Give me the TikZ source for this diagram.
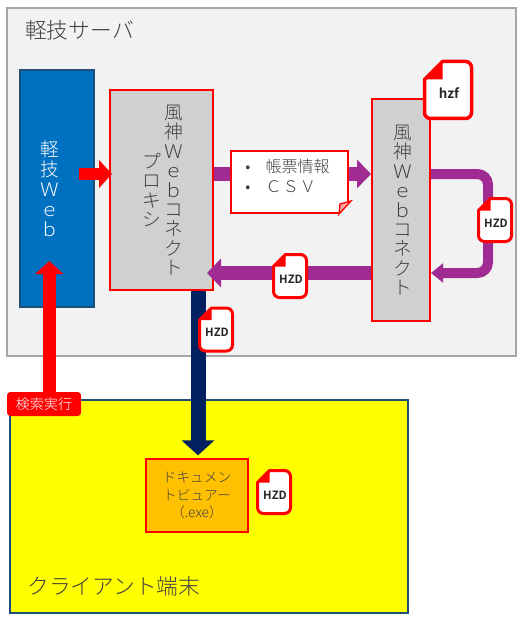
\documentclass[tikz,border=0pt]{standalone}
\usepackage{fontspec}
\setmainfont{Noto Sans CJK JP Light}[BoldFont=Noto Sans CJK JP Bold]
\usetikzlibrary{arrows.meta,positioning,calc}
\definecolor{servergray}{HTML}{F2F2F2}
\definecolor{frameline}{HTML}{A6A6A6}
\definecolor{webblue}{HTML}{0070C0}
\definecolor{deepteal}{HTML}{1F4E79}
\definecolor{boxgray}{HTML}{D0D0D0}
\definecolor{purpleflow}{HTML}{A02B93}
\definecolor{navyflow}{HTML}{002060}
\definecolor{viewerorange}{HTML}{FFC000}
\definecolor{clientyellow}{HTML}{FFFF00}
\definecolor{textgray}{HTML}{404040}
\definecolor{docred}{HTML}{FF0000}
% stacked column of characters
\newcommand{\tate}[1]{\parbox[c]{1.18em}{\centering\lineskiplimit=-20pt\relax #1}}
% name, centre, half width, half height, fold, border, text
\newcommand{\docicon}[7]{
  \begin{scope}[shift={(#2)}]
    \draw[docline,line width=#6*.75pt] (-#3+#5,-#4) -- (#3-6,-#4) to[out=0,in=90] (#3,-#4+6) -- (#3,#4-6) to[out=-90,in=0] (#3-6,#4) -- (-#3+6,#4) to[out=180,in=-90] (-#3,#4-6) -- (-#3,-#4+#5) -- cycle;
    \fill[docred] (-#3+#5,-#4) -- (-#3+#5,-#4+#5) -- (-#3,-#4+#5) -- cycle;
  \end{scope}
  \node[doctext] (#1) at ($(#2)+(1,3)$) {#7};
}
\begin{document}
\begin{tikzpicture}[x=.75pt,y=-.75pt,
  pxsize/.style 2 args={minimum width=#1*.75pt,minimum height=#2*.75pt,inner sep=0pt},
  frame/.style={draw=frameline,line width=1.7pt,fill=servergray},
  webbox/.style={draw=deepteal,line width=1.5pt,fill=webblue,text=white,font=\fontsize{14}{15}\selectfont},
  graybox/.style={draw=docred,line width=1.5pt,fill=boxgray,text=textgray,font=\fontsize{14}{14.5}\selectfont},
  notebox/.style={draw=docred,line width=1.5pt,fill=white,text=textgray,align=left,font=\fontsize{12}{15}\selectfont},
  client/.style={draw=deepteal,line width=1.5pt,fill=clientyellow},
  viewerbox/.style={draw=docred,line width=1.5pt,fill=viewerorange,text=textgray,align=center,font=\fontsize{10.3}{13}\selectfont},
  tagbox/.style={fill=docred,rounded corners=2.5pt,text=white,font=\fontsize{10.5}{12}\selectfont},
  areatitle/.style={anchor=west,inner sep=0pt,text=textgray,font=\fontsize{16.3}{18}\selectfont},
  docline/.style={draw=docred,fill=white,line join=round},
  doctext/.style={inner sep=0pt,text=black!85,font=\fontsize{8.5}{10}\selectfont\bfseries},
  redflow/.style={draw=docred,line width=9.5pt,-{Triangle[length=9.75pt,width=20.5pt]}},
  navyarrow/.style={draw=navyflow,line width=11.25pt,-{Triangle[length=11.25pt,width=24pt]}},
  purplearrow/.style={draw=purpleflow,line width=10pt,-{Triangle[length=10.5pt,width=21pt]}},
  loopflow/.style={draw=purpleflow,line width=7.5pt,rounded corners=8pt,-{Triangle[length=9pt,width=14pt]}}
]
  \useasboundingbox (0,0) rectangle (526,624);
  \coordinate (flowA) at (0,174);
  \coordinate (flowB) at (0,273);
  \coordinate (turn) at (488,0);
  \coordinate (upline) at (49.3,0);
  \coordinate (navyline) at (198,0);

  \node[frame,pxsize={509}{348}] (server) at (261.5,182) {};
  \node[areatitle] (servertitle) at (25,30) {軽技サーバ};
  \node[webbox,pxsize={74}{237}] (web) at (57,188.5) {\tate{軽\\技\\Ｗ\\ｅ\\ｂ}\hspace*{10pt}};
  \node[graybox,pxsize={103}{200}] (proxy) at (161.5,190) {\hspace*{2pt}\tate{プ\\ロ\\キ\\シ}\tate{風\\神\\Ｗ\\ｅ\\ｂ\\コ\\ネ\\ク\\ト}};
  \node[graybox,pxsize={58}{222}] (connect) at (401,210) {\hspace*{3pt}\tate{風\\神\\Ｗ\\ｅ\\ｂ\\コ\\ネ\\ク\\ト}};

  \node[client,pxsize={398}{213}] (clientarea) at (209,506.5) {};
  \node[areatitle] (clienttitle) at (27,586) {クライアント端末};
  \node[viewerbox,pxsize={102}{73}] (viewer) at (197,495.5) {ドキュメン\\トビュアー\\（.exe）};

  \draw[redflow] ([xshift=-12pt]web.east |- flowA) -- ([xshift=2.25pt]proxy.west |- flowA);
  \draw[redflow] (upline |- 0,395) -- ([yshift=35.25pt]upline |- web.south);
  \draw[navyarrow] (navyline |- proxy.south) -- ([yshift=2pt]navyline |- viewer.north);
  \draw[purplearrow] (proxy.east |- flowA) -- (connect.west |- flowA);
  \draw[purplearrow] (connect.west |- flowB) -- ([xshift=-5.25pt]proxy.east |- flowB);
  \draw[loopflow] (connect.east |- flowA) -- (turn |- flowA) -- (turn |- flowB) -- (connect.east |- flowB);

  \node[notebox,pxsize={117}{62}] (note) at (289.5,182) {•\hspace{.96em}帳票情報\hspace*{3pt}\\•\hspace{.96em}Ｃ\hspace{.8pt}Ｓ\hspace{.8pt}Ｖ\\[-6pt]\mbox{}};
  \fill[servergray] (note.south east) -- ++(-10,0) -- ++(10,-12) -- cycle;
  \draw[draw=docred,line width=1pt,fill=docred!35] ([xshift=-10*.75pt]note.south east) -- ++(12,-13) -- ++(-11,3) -- cycle;

  \node[tagbox,pxsize={74}{24}] (searchrun) at (44,404) {検索実行};

  \docicon{hzffile}{448,90}{23.5}{28.5}{18}{3.5}{\fontsize{10}{12}\selectfont hzf}
  \docicon{hzdloop}{495,220}{16.5}{21.5}{12}{3}{HZD}
  \docicon{hzdback}{290,276}{16.5}{21.5}{12}{3}{HZD}
  \docicon{hzddown}{216,329.5}{16.5}{21.5}{12}{3}{HZD}
  \docicon{hzdview}{274,492}{16.5}{21.5}{12}{3}{HZD}
\end{tikzpicture}
\end{document}
